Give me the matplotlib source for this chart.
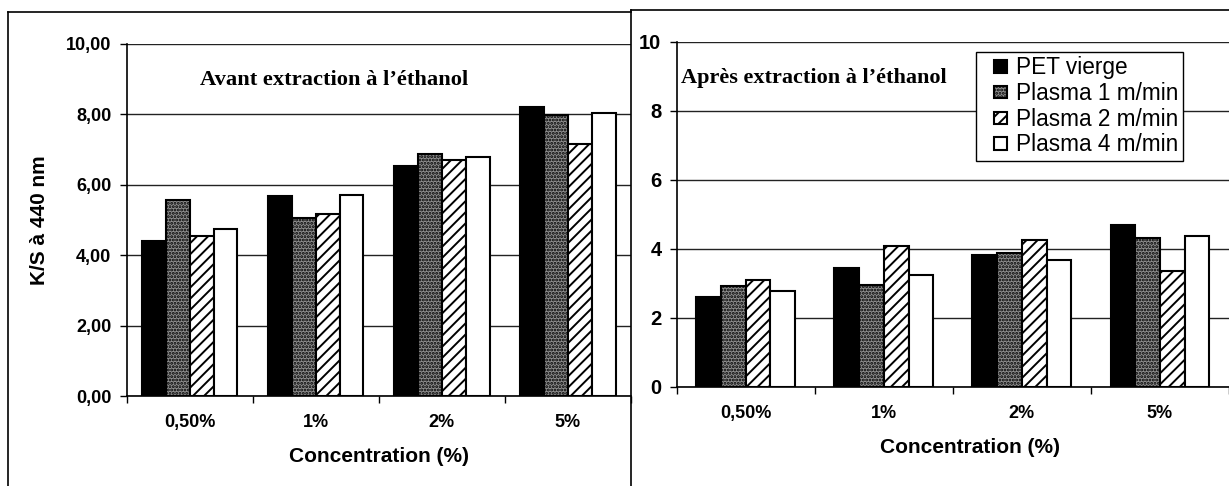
import numpy as np
import matplotlib
matplotlib.use('Agg')
import matplotlib.pyplot as plt
from matplotlib.lines import Line2D
from matplotlib.patches import Rectangle
from matplotlib.legend_handler import HandlerPatch

# K/S at 440 nm, per dye concentration, before and after ethanol extraction
concentrations = ['0,50%', '1%', '2%', '5%']
series_names = ['PET vierge', 'Plasma 1 m/min', 'Plasma 2 m/min', 'Plasma 4 m/min']

avant_pet = [4.40, 5.67, 6.52, 8.22]
avant_p1 = [5.58, 5.05, 6.87, 7.99]
avant_p2 = [4.54, 5.16, 6.70, 7.16]
avant_p4 = [4.75, 5.70, 6.78, 8.05]

apres_pet = [2.60, 3.44, 3.83, 4.68]
apres_p1 = [2.91, 2.96, 3.88, 4.30]
apres_p2 = [3.08, 4.09, 4.26, 3.34]
apres_p4 = [2.76, 3.25, 3.66, 4.38]

left_ticks = [0, 2, 4, 6, 8, 10]
left_tick_labels = ['0,00', '2,00', '4,00', '6,00', '8,00', '10,00']
right_ticks = [0, 2, 4, 6, 8, 10]
right_tick_labels = ['0', '2', '4', '6', '8', '10']

SANS = 'Liberation Sans'
SERIF = 'Liberation Serif'

# bar styles: black, speckled grey, diagonal hatch, white
STYLES = [
    dict(facecolor='black', hatch=None),
    dict(facecolor='#8e8e8e', hatch='.....'),
    dict(facecolor='white', hatch='///'),
    dict(facecolor='white', hatch=None),
]

plt.rcParams['hatch.linewidth'] = 1.4
plt.rcParams['hatch.color'] = 'black'

W, H = 1229, 486


class SmallSquare(HandlerPatch):
    """Legend key drawn as a small square at the right of the handle box."""

    def __init__(self, size, **kw):
        self.size = size
        super().__init__(**kw)

    def _create_patch(self, legend, orig_handle, xdescent, ydescent, width, height, fontsize):
        s = self.size * fontsize
        return Rectangle((-xdescent + width - s, -ydescent + (height - s) / 2), s, s)


def px_axes(fig, x0, x1, ytop, ybot):
    return fig.add_axes([x0 / W, (H - ybot) / H, (x1 - x0) / W, (ybot - ytop) / H])


def draw_panel(ax, data, bar_width, xmax, ticks, tick_labels, ytick_size, ypad):
    x = np.arange(len(concentrations))
    bars = []
    for i, (vals, st) in enumerate(zip(data, STYLES)):
        offset = (i - 1.5) * bar_width
        b = ax.bar(x + offset, vals, bar_width, facecolor=st['facecolor'],
                   hatch=st['hatch'], edgecolor='black', linewidth=1.5,
                   zorder=3, label=series_names[i])
        bars.append(b)

    ax.set_xlim(-0.5, xmax)
    ax.set_ylim(0, 10)
    ax.set_yticks(ticks)
    ax.set_yticklabels(tick_labels, fontsize=ytick_size, family=SANS, fontweight='bold')
    ax.tick_params(axis='y', direction='out', length=5, width=1, pad=ypad)

    # labels at category centres, tick marks at category boundaries
    ax.set_xticks(x)
    ax.set_xticklabels(concentrations, fontsize=13, family=SANS, fontweight='bold')
    ax.set_xticks(np.arange(-0.5, len(concentrations), 1.0), minor=True)
    ax.tick_params(axis='x', which='major', length=0, pad=13)
    ax.tick_params(axis='x', which='minor', direction='out', length=5, width=1)

    ax.grid(axis='y', color='#222222', linewidth=1.0, zorder=0)
    ax.set_axisbelow(True)
    for side in ['top', 'right']:
        ax.spines[side].set_visible(False)
    for side in ['left', 'bottom']:
        ax.spines[side].set_linewidth(1.2)
    return bars


fig = plt.figure(figsize=(W / 100, H / 100), dpi=100)
fig.patch.set_facecolor('white')

# left panel: before extraction
ax1 = px_axes(fig, 126.7, 631, 44, 396)
draw_panel(ax1, [avant_pet, avant_p1, avant_p2, avant_p4], 0.189, 3.471,
           left_ticks, left_tick_labels, 13, 6)
ax1.set_ylabel('K/S à 440 nm', fontsize=15, fontweight='bold', family=SANS)
ax1.yaxis.set_label_coords(-0.154, 0.5)
ax1.set_xlabel('Concentration (%)', fontsize=15, fontweight='bold', family=SANS)
ax1.xaxis.set_label_coords(0.5, -0.145)
ax1.text(0.145, 0.898, 'Avant extraction à l\u2019éthanol', transform=ax1.transAxes,
         fontsize=16.2, fontweight='bold', family=SERIF, ha='left', va='center')

# right panel: after extraction
ax2 = px_axes(fig, 676.7, 1229, 41.7, 386.7)
bars = draw_panel(ax2, [apres_pet, apres_p1, apres_p2, apres_p4], 0.179, 3.45,
                  right_ticks, right_tick_labels, 14.5, 6)
ax2.set_xlabel('Concentration (%)', fontsize=15, fontweight='bold', family=SANS)
ax2.xaxis.set_label_coords(0.531, -0.149)
ax2.text(0.007, 0.894, 'Après extraction à l\u2019éthanol', transform=ax2.transAxes,
         fontsize=16, fontweight='bold', family=SERIF, ha='left', va='center')

handles = [b.patches[0] for b in bars]
leg = ax2.legend(handles, series_names, loc='upper left', bbox_to_anchor=(0.542, 0.971),
                 prop={'family': SANS, 'size': 16.3}, frameon=True, fancybox=False,
                 edgecolor='black', framealpha=1, borderpad=0.2, labelspacing=0.12,
                 handlelength=1.15, handleheight=0.7, handletextpad=0.4,
                 borderaxespad=0,
                 handler_map={h: SmallSquare(0.55) for h in handles})
leg.get_frame().set_linewidth(1.0)
leg.set_zorder(5)

# panel frames
frame_kw = dict(color='black', linewidth=1.2, transform=fig.transFigure)
fig.add_artist(Line2D([8 / W, 8 / W], [(H - 11.7) / H, 0], **frame_kw))
fig.add_artist(Line2D([8 / W, 631 / W], [(H - 11.7) / H, (H - 11.7) / H], **frame_kw))
fig.add_artist(Line2D([631 / W, 631 / W], [(H - 10) / H, 0], **frame_kw))
fig.add_artist(Line2D([631 / W, 1], [(H - 10) / H, (H - 10) / H], **frame_kw))

fig.savefig('out.png', dpi=100)
